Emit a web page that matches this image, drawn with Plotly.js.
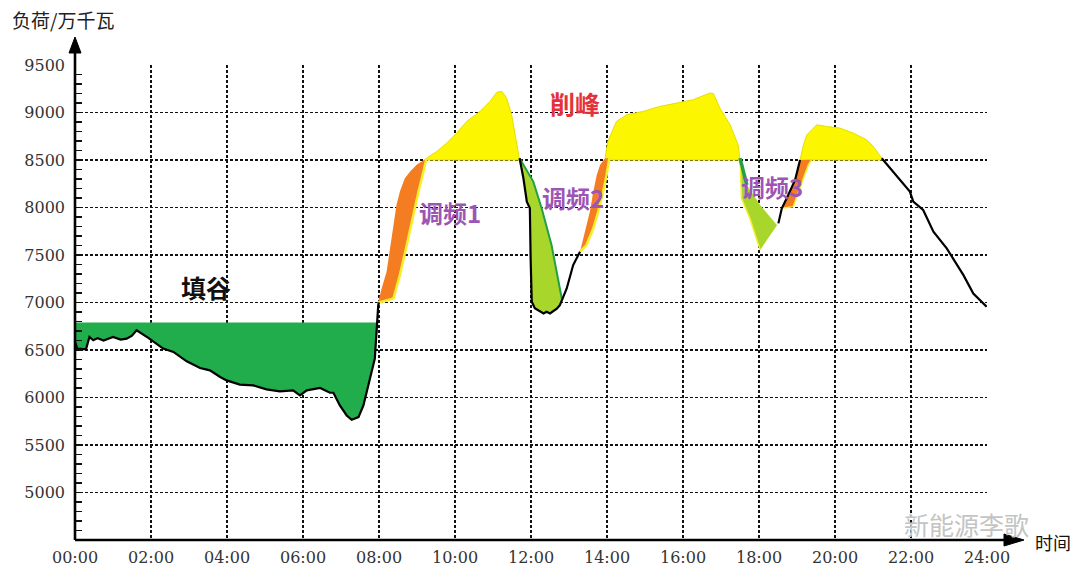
<!DOCTYPE html>
<html>
<head>
<meta charset="utf-8">
<script src="https://cdn.plot.ly/plotly-3.0.1.min.js"></script>
<style>html,body{margin:0;padding:0;background:#fff;}#chart{width:1080px;height:577px;}</style>
</head>
<body>
<div id="chart"></div>
<script>
// ---- data (hours, 万千瓦) ----
const loadT = [0,0.06,0.29,0.38,0.48,0.6,0.75,1.0,1.2,1.36,1.5,1.62,1.93,2.32,2.59,2.94,3.29,3.55,3.82,3.99,4.34,4.69,5.04,5.39,5.74,5.92,6.1,6.45,6.71,6.8,6.97,7.15,7.28,7.46,7.59,7.76,7.89,7.98,8.0,8.38,8.55,8.73,8.9,9.04,9.17,9.25,9.52,9.78,10.04,10.31,10.48,10.66,10.92,11.1,11.23,11.36,11.49,11.62,11.7,11.8,11.89,11.97,11.99,12.02,12.1,12.24,12.33,12.41,12.5,12.68,12.76,12.94,13.11,13.29,13.42,13.55,13.64,13.73,13.82,13.95,14.02,14.25,14.52,14.96,15.39,15.83,16.27,16.71,16.8,16.97,17.24,17.45,17.5,17.54,17.76,18.03,18.51,18.6,18.73,18.95,19.08,19.17,19.26,19.52,19.78,20.13,20.48,20.83,21.01,21.23,21.53,21.97,22.06,22.32,22.59,22.94,23.38,23.64,23.99];
const loadV = [6585,6515,6507,6638,6602,6625,6600,6638,6610,6620,6650,6708,6627,6515,6480,6381,6311,6286,6216,6180,6135,6128,6085,6064,6075,6022,6075,6100,6050,6050,5917,5811,5766,5794,5917,6198,6409,6972,7000,7042,7288,7605,7921,8168,8379,8519,8590,8677,8783,8906,8959,9012,9117,9212,9223,9152,8976,8695,8519,8308,8062,7992,7464,7007,6940,6902,6884,6902,6884,6935,6972,7148,7394,7535,7746,7957,8168,8343,8449,8519,8695,8906,8976,9012,9064,9099,9135,9205,9200,9047,8871,8660,8519,8097,7886,7552,7833,7992,8097,8290,8500,8660,8766,8871,8853,8836,8783,8713,8642,8519,8379,8168,8062,7974,7746,7570,7288,7095,6955];

const valleyLevel = 6790;   // 填谷 level
const peakLevel = 8500;     // 削峰 level

// frequency-regulation boundaries
const fm1T = [7.98,8.07,8.2,8.29,8.38,8.46,8.55,8.68,8.82,8.99,9.25];
const fm1V = [7007,7148,7324,7535,7816,8027,8168,8308,8379,8449,8519];
const fm2GreenT = [11.7,12.06,12.28,12.54,12.81];
const fm2GreenV = [8519,8273,7992,7605,7042];
const fm2OrangeT = [13.29,13.46,13.64,13.77,13.9,13.99,14.06];
const fm2OrangeV = [7535,7605,7781,7957,8168,8343,8519];
const fm3GreenT = [17.5,17.68,18.03,18.47,18.51];
const fm3GreenV = [8519,8238,8027,7816,7833];
const fm3OrangeT = [18.6,18.9,19.17,19.3,19.38];
const fm3OrangeV = [7992,8009,8308,8449,8502];

const xTickVals = [0,2,4,6,8,10,12,14,16,18,20,22,24];
const xTickText = ["00:00","02:00","04:00","06:00","08:00","10:00","12:00","14:00","16:00","18:00","20:00","22:00","24:00"];
const yTickVals = [5000,5500,6000,6500,7000,7500,8000,8500,9000,9500];

// ---- helpers ----
function seg(a, b) {
  const t = [], v = [];
  loadT.forEach((x, i) => { if (x >= a - 1e-9 && x <= b + 1e-9) { t.push(x); v.push(loadV[i]); } });
  return {t, v};
}
function band(a, b, altT, altV, fill) {
  const s = seg(a, b);
  return {x: s.t.concat(altT.slice().reverse()), y: s.v.concat(altV.slice().reverse()),
    mode: 'lines', fill: 'toself', fillcolor: fill, line: {width: 0, color: fill}, hoverinfo: 'skip', showlegend: false};
}
function edge(xs, ys, color, width) {
  return {x: xs, y: ys, mode: 'lines', line: {color: color, width: width}, hoverinfo: 'skip', showlegend: false};
}

const YELLOW = '#fcf600', ORANGE = '#f47d22', LGREEN = '#a9d62b', GREEN = '#22ad4c', DGREEN = '#23a047', YLINE = '#f3ef2a';
const traces = [];

// valley fill
const val = seg(0, 8.0);
traces.push({x: val.t, y: val.t.map(() => valleyLevel), mode: 'lines', line: {width: 0}, hoverinfo: 'skip', showlegend: false});
traces.push({x: val.t, y: val.v.map(v => Math.min(v, valleyLevel)), mode: 'lines', line: {width: 0}, fill: 'tonexty', fillcolor: GREEN, hoverinfo: 'skip', showlegend: false});

// peak fills
[[9.25, 11.7], [13.95, 17.5], [19.08, 21.23]].forEach(r => {
  const s = seg(r[0], r[1]);
  traces.push({x: s.t.concat([r[1], r[0]]), y: s.v.map(v => Math.max(v, peakLevel)).concat([peakLevel, peakLevel]),
    mode: 'lines', fill: 'toself', fillcolor: YELLOW, line: {color: '#e6de00', width: 1}, hoverinfo: 'skip', showlegend: false});
});

// regulation bands
traces.push(band(7.98, 9.25, fm1T, fm1V, ORANGE));
traces.push(band(11.7, 12.76, fm2GreenT, fm2GreenV, LGREEN));
traces.push(band(13.29, 13.95, fm2OrangeT, fm2OrangeV, ORANGE));
traces.push(band(17.5, 18.51, fm3GreenT, fm3GreenV, LGREEN));
traces.push(band(18.6, 19.08, fm3OrangeT, fm3OrangeV, ORANGE));

// yellow outlines on the lower/right edges of the bands
const s1 = seg(7.98, 9.25);
traces.push(edge(s1.t, s1.v, YLINE, 2.5));
traces.push(edge(fm2OrangeT, fm2OrangeV, YLINE, 2.5));
const s3 = seg(17.5, 18.03);
traces.push(edge(s3.t, s3.v, YLINE, 1.5));
traces.push(edge(fm3OrangeT, fm3OrangeV, YLINE, 1.5));

// dark green regulation lines
traces.push(edge(fm2GreenT, fm2GreenV, DGREEN, 2));
traces.push(edge(fm3GreenT.slice(0, 2), fm3GreenV.slice(0, 2), DGREEN, 3.5));

// black load curve (visible parts)
const bx = [], by = [];
[[0, 8.0], [11.7, 13.29], [18.51, 19.08], [21.23, 24]].forEach(r => {
  const s = seg(r[0], r[1]);
  s.t.forEach((t, i) => { bx.push(t); by.push(s.v[i]); });
  bx.push(null); by.push(null);
});
traces.push({x: bx, y: by, mode: 'lines', line: {color: '#000', width: 2.2}, connectgaps: false, hoverinfo: 'skip', showlegend: false});

// ---- layout ----
const L = 75, R = 987, T = 65, B = 540;
const px = p => (p - L) / (R - L);
const py = p => (B - p) / (B - T);

const cjk = '"Noto Sans CJK SC", "Noto Sans", sans-serif';
const serif = '"DejaVu Serif", "Liberation Serif", serif';
const layout = {
  width: 1080, height: 577,
  margin: {l: L, r: 1080 - R, t: T, b: 577 - B, pad: 0},
  paper_bgcolor: '#fff', plot_bgcolor: '#fff',
  showlegend: false,
  xaxis: {
    range: [0, 24], tickvals: xTickVals, ticktext: xTickText, ticks: '',
    showgrid: true, gridcolor: '#111', gridwidth: 1.6, griddash: '3px,2px',
    zeroline: false, showline: false, fixedrange: true,
    tickfont: {family: serif, size: 16, color: '#333'},
    ticklabelstandoff: 6
  },
  yaxis: {
    range: [4500, 9500], tickvals: yTickVals, ticks: 'inside', ticklen: 7, tickwidth: 1.5, tickcolor: '#111',
    minor: {dtick: 100, tick0: 4500, ticks: 'inside', ticklen: 7, tickwidth: 1.5, tickcolor: '#111', showgrid: false},
    showgrid: true, gridcolor: '#111', gridwidth: 1.6, griddash: '3px,2px',
    zeroline: false, showline: false, fixedrange: true,
    tickfont: {family: serif, size: 16, color: '#333'},
    ticklabelstandoff: 9
  },
  shapes: [
    {type: 'line', xref: 'paper', yref: 'paper', x0: 0, x1: 0, y0: 0, y1: py(50), line: {color: '#000', width: 2.6}},
    {type: 'path', xref: 'paper', yref: 'paper', fillcolor: '#000', line: {color: '#000', width: 1},
      path: `M ${px(69)} ${py(53)} L ${px(75)} ${py(37)} L ${px(81)} ${py(53)} Z`},
    {type: 'line', xref: 'paper', yref: 'paper', x0: 0, x1: px(1008), y0: 0, y1: 0, line: {color: '#000', width: 2.4}},
    {type: 'path', xref: 'paper', yref: 'paper', fillcolor: '#000', line: {color: '#000', width: 1},
      path: `M ${px(1004)} ${py(534)} L ${px(1024)} ${py(540)} L ${px(1004)} ${py(546)} Z`}
  ],
  annotations: [
    {text: '负荷/万千瓦', xref: 'paper', yref: 'paper', x: px(10), y: py(20), xanchor: 'left', yanchor: 'middle', showarrow: false,
      font: {family: cjk, size: 19, color: '#222'}},
    {text: '时间', xref: 'paper', yref: 'paper', x: px(1033), y: py(542), xanchor: 'left', yanchor: 'middle', showarrow: false,
      font: {family: cjk, size: 18, color: '#111'}},
    {text: '新能源李歌', xref: 'paper', yref: 'paper', x: px(966), y: py(524), xanchor: 'center', yanchor: 'middle', showarrow: false,
      font: {family: cjk, size: 25, color: '#c4c4c4'}},
    {text: '<b>填谷</b>', x: 3.45, y: 7158, showarrow: false, font: {family: cjk, size: 25, color: '#111'}},
    {text: '<b>削峰</b>', x: 13.16, y: 9100, showarrow: false, font: {family: cjk, size: 25, color: '#e5323a'}},
    {text: '<b>调频1</b>', x: 9.87, y: 7950, showarrow: false, font: {family: cjk, size: 24, color: '#9c55b5'}},
    {text: '<b>调频2</b>', x: 13.1, y: 8108, showarrow: false, font: {family: cjk, size: 24, color: '#9c55b5'}},
    {text: '<b>调频3</b>', x: 18.34, y: 8224, showarrow: false, font: {family: cjk, size: 24, color: '#9c55b5'}}
  ]
};

Plotly.newPlot('chart', traces, layout, {displayModeBar: false, staticPlot: true});
</script>
</body>
</html>
